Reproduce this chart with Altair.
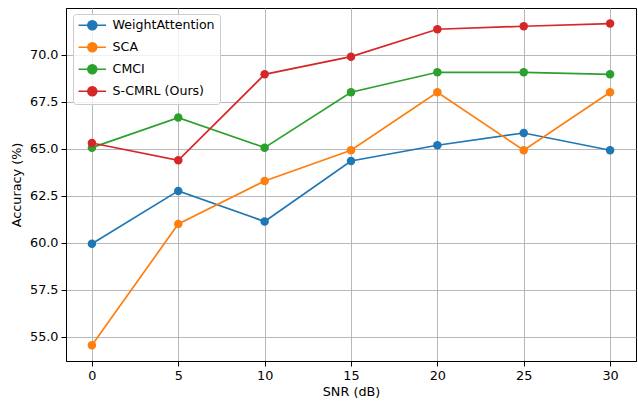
import altair as alt
import pandas as pd

snr = [0, 5, 10, 15, 20, 25, 30]
methods = ["WeightAttention", "SCA", "CMCI", "S-CMRL (Ours)"]
weight_attention = [59.96, 62.77, 61.14, 64.36, 65.20, 65.85, 64.93]
sca = [54.56, 61.01, 63.30, 64.93, 68.02, 64.93, 68.02]
cmci = [65.07, 66.67, 65.07, 68.02, 69.08, 69.08, 68.97]
scmrl = [65.32, 64.40, 68.97, 69.91, 71.37, 71.53, 71.67]
colors = ["#1f77b4", "#ff7f0e", "#2ca02c", "#d62728"]
y_ticks = [55.0, 57.5, 60.0, 62.5, 65.0, 67.5, 70.0]
x_ticks = [0, 5, 10, 15, 20, 25, 30]

series = [weight_attention, sca, cmci, scmrl]
rows = []
for m, vals in zip(methods, series):
    for s, v in zip(snr, vals):
        rows.append({"snr": s, "acc": v, "method": m})
df = pd.DataFrame(rows)

FONT = "DejaVu Sans"

x = alt.X("snr:Q", scale=alt.Scale(domain=[-1.5, 31.5], nice=False, zero=False),
          axis=alt.Axis(values=x_ticks, title="SNR (dB)", format="d"))
y = alt.Y("acc:Q", scale=alt.Scale(domain=[53.72, 72.5], nice=False, zero=False),
          axis=alt.Axis(values=y_ticks, title="Accuracy (%)", format=".1f"))
color = alt.Color("method:N", sort=methods,
                  scale=alt.Scale(domain=methods, range=colors),
                  legend=alt.Legend(
                      title=None, orient="none", legendX=7, legendY=6,
                      symbolType="M-2.75,0H2.75M-0.9,0A0.9,0.9,0,1,1,0.9,0A0.9,0.9,0,1,1,-0.9,0Z",
                      symbolSize=100, symbolStrokeWidth=1.6, symbolOffset=8,
                      labelOffset=14, rowPadding=6, padding=5,
                      labelFontSize=12.6, labelFont=FONT, labelColor="#000000",
                      fillColor="rgba(255,255,255,0.8)", strokeColor="#cccccc",
                      cornerRadius=3))

layers = []
for m in methods:
    layers.append(
        alt.Chart(df).transform_filter(alt.datum.method == m)
        .mark_line(strokeWidth=1.7,
                   point=alt.OverlayMarkDef(filled=True, size=72, opacity=1))
        .encode(x=x, y=y, color=color)
    )

chart = alt.layer(*layers).properties(
    width=570, height=353,
    autosize=alt.AutoSizeParams(type="none"),
    padding={"left": 66, "top": 8, "right": 2, "bottom": 42},
).configure_view(
    stroke="#000000", strokeWidth=1
).configure_axis(
    domainColor="#000000", domainWidth=1,
    tickColor="#000000", tickSize=5, tickWidth=1,
    labelFont=FONT, labelFontSize=12.8, labelColor="#000000", labelPadding=3,
    titleFont=FONT, titleFontSize=12.8, titleFontWeight="normal", titleColor="#000000",
    grid=True, gridColor="#b0b0b0", gridWidth=1, gridOpacity=0.9,
).configure_axisY(titlePadding=6).configure_axisX(titlePadding=4)

chart.save("out.html", embed_options={"renderer": "svg", "actions": False})
